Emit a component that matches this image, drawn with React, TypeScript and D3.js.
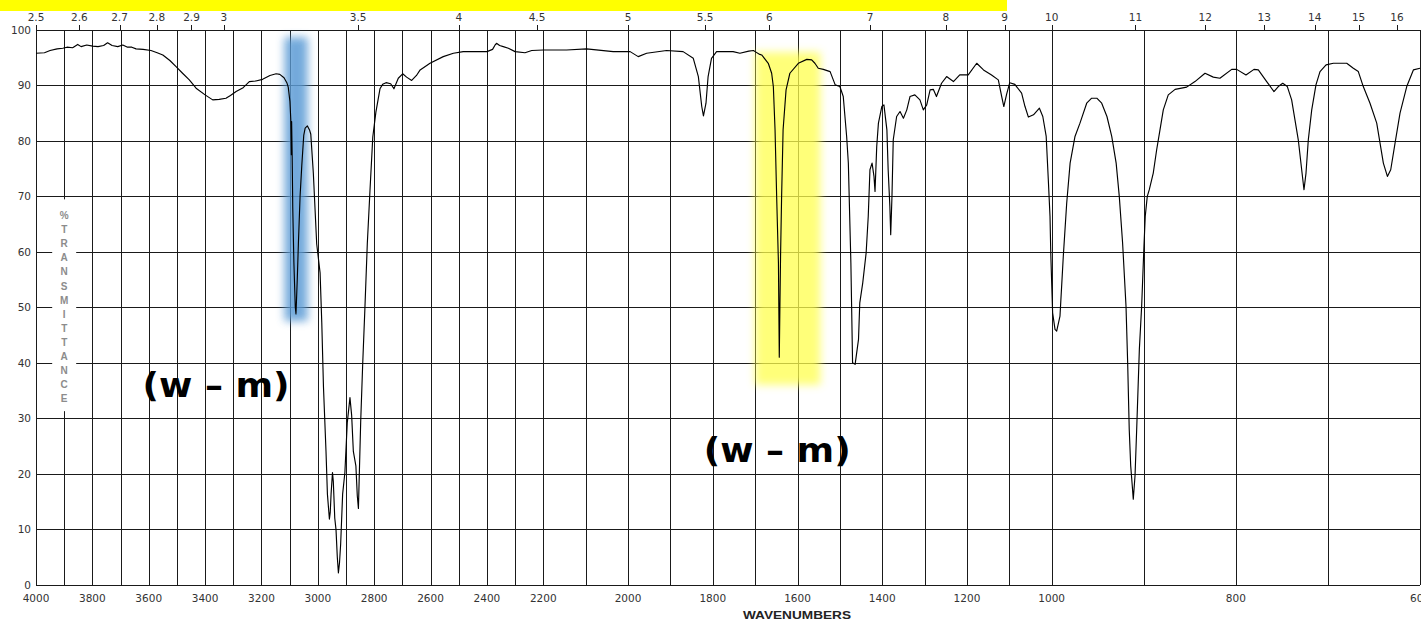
import React from "react";
import * as d3 from "d3";

// ---- Data ----
const wavenumbers = [
  4000, 3970, 3950, 3925, 3905, 3890, 3870, 3852, 3840, 3820, 3799, 3780, 3760, 3746, 3730, 3710, 3692, 3675, 3660, 3645,
  3620, 3592, 3570, 3550, 3525, 3503, 3480, 3456, 3432, 3400, 3373, 3350, 3326, 3310, 3290, 3265, 3243, 3220, 3196, 3170,
  3148, 3135, 3120, 3110, 3105, 3099, 3096, 3094, 3093, 3091, 3089, 3085, 3080, 3077.5, 3073, 3069, 3063, 3057, 3050, 3045,
  3037, 3029, 3025, 3016, 3004, 2992, 2986, 2980, 2971, 2966, 2959, 2956, 2953, 2948, 2945, 2940, 2935.5, 2931, 2927, 2923,
  2919, 2912, 2904, 2895.5, 2886, 2880, 2874, 2865, 2860, 2856, 2848, 2841, 2833, 2824.5, 2815, 2805, 2794, 2779.5, 2770, 2758,
  2741.5, 2730, 2714.5, 2699, 2685, 2667, 2650, 2637, 2602, 2555, 2519, 2484, 2400, 2380, 2371, 2366, 2355, 2342, 2324, 2300,
  2265, 2241, 2200, 2145, 2098, 2035, 1995, 1976, 1956, 1909, 1870, 1846, 1834, 1826, 1822, 1816, 1811, 1803, 1791, 1752,
  1736, 1715, 1704, 1700, 1689, 1684.5, 1669, 1661, 1657, 1653, 1649, 1645, 1643, 1640, 1637.5, 1634, 1627, 1618, 1598, 1578,
  1566.5, 1559, 1551, 1539, 1523, 1511, 1500, 1492, 1484, 1480, 1474, 1470, 1464, 1456, 1453, 1446, 1438, 1433, 1429, 1424,
  1419.5, 1417, 1413, 1409, 1401, 1396, 1389, 1386, 1382, 1380, 1377, 1374, 1366, 1358, 1350, 1342, 1334.5, 1323, 1311, 1303,
  1295, 1287, 1279.5, 1272, 1260, 1248, 1232, 1217, 1197, 1177, 1161, 1142, 1126, 1118, 1113, 1106.5, 1099, 1087, 1071, 1063,
  1055, 1043, 1029, 1021, 1013, 1008, 1004, 1002, 999, 996.4, 994.6, 991, 987.4, 983.7, 980, 974.7, 969.3, 962, 956.6, 951,
  945.7, 940, 934.8, 930, 926.6, 923, 919.3, 917.5, 915.8, 914.2, 912.5, 911.4, 909.5, 907.7, 904.8, 902.3, 899.8, 898.4, 896.2, 894,
  889.7, 886, 882.4, 878.8, 873.4, 866, 853.4, 844.4, 833.5, 824.5, 817.3, 804.5, 799.1, 789, 780.3, 775.6, 766.5, 758.6, 753.9, 749.1,
  744.1, 739.4, 735.8, 732.2, 728.5, 726, 723.8, 721.3, 717.6, 713, 708.6, 702, 694.1, 679.6, 672.4, 667, 661.6, 654.3, 647, 643.4,
  639.8, 635.4, 631.8, 627.1, 621.7, 614.4, 607.2, 600,
];
const transmittance = [
  95.8, 95.9, 96.3, 96.6, 96.7, 96.9, 96.8, 97.4, 97.0, 97.3, 97.1, 97.0, 97.2, 97.7, 97.2, 97.0, 97.3, 96.9, 96.9, 96.6,
  96.5, 96.3, 95.9, 95.5, 94.5, 93.4, 92.2, 91.0, 89.5, 88.3, 87.4, 87.5, 87.7, 88.2, 88.9, 89.6, 90.7, 90.8, 91.1, 91.8,
  92.1, 92.0, 91.4, 90.5, 89.7, 87.1, 83.9, 77.5, 83.5, 77, 68, 58.1, 50, 48.8, 55, 61.4, 70, 75.5, 81, 82.3,
  82.7, 81.9, 81.2, 74.2, 61.4, 56.2, 47.2, 35.6, 24.0, 16.3, 11.8, 13, 16.3, 20.2, 18.5, 12, 9.9, 5, 2.1, 4,
  7.3, 16.3, 20.2, 29.2, 33.7, 30.5, 24.0, 21.4, 16, 13.7, 29.2, 39.5, 49.8, 61.4, 71.0, 80.7, 85.2, 89.4, 90.2, 90.5,
  90.3, 89.4, 91.3, 92.1, 91.5, 90.9, 91.8, 92.8, 94.0, 95.2, 95.8, 96.1, 96.1, 96.5, 97.3, 97.6, 97.2, 97.0, 96.7, 96.1,
  95.9, 96.3, 96.4, 96.4, 96.6, 96.1, 96.1, 95.2, 95.8, 96.3, 96.1, 94.9, 91.6, 86.2, 84.5, 86.8, 91.6, 94.9, 96.1, 96.1,
  95.8, 96.2, 96.3, 96.1, 95.6, 95.5, 94.0, 92.2, 89.8, 82.0, 69.4, 58.0, 41.0, 59.2, 70, 82, 89.2, 92.2, 94.0, 94.7,
  94.6, 94.0, 93.1, 92.9, 92.5, 90.1, 89.8, 88.0, 80.8, 76, 58, 40, 39.7, 44.2, 50.8, 54.4, 59.8, 66.4, 74.8, 76,
  73.6, 70.9, 79, 83.2, 86.2, 86.5, 82, 74.8, 68.2, 63.1, 70, 80.2, 84.4, 85.3, 84.1, 85.6, 88, 88.3, 87.4, 85.6,
  86.5, 89.2, 89.3, 88, 90.4, 91.6, 90.7, 91.9, 91.9, 94.0, 92.8, 91.9, 91, 88, 86.2, 88.4, 90.5, 90.2, 88.6, 86.2,
  84.3, 84.7, 85.9, 84.4, 80.8, 73, 66.4, 59.2, 49, 46, 45.7, 48.4, 59.2, 68.8, 76, 80.8, 83.2, 86.8, 87.7, 87.7,
  86.8, 84.4, 80.8, 76, 70, 61.6, 50.2, 40, 28, 21.4, 17.8, 15.4, 19.6, 28, 42.4, 50.2, 61, 66.4, 70, 71.2,
  74.2, 78.4, 82, 85.6, 88.3, 89.3, 89.7, 90.7, 92.2, 91.5, 91.3, 92.9, 92.9, 91.9, 92.9, 92.8, 90.7, 88.9, 89.8, 90.4,
  89.8, 87.4, 83.8, 80.2, 74.8, 71.2, 74.2, 80.2, 85.6, 90.1, 92.5, 93.7, 94.0, 94.0, 93.1, 92.5, 89.8, 86.8, 83.2, 79.6,
  76, 73.6, 74.8, 79.6, 85, 89.8, 92.8, 93.1,
];

const bottomTickLabels = [4000, 3800, 3600, 3400, 3200, 3000, 2800, 2600, 2400, 2200, 2000, 1800, 1600, 1400, 1200, 1000, 800, 600];
const micronTickLabels = [2.5, 2.6, 2.7, 2.8, 2.9, 3, 3.5, 4, 4.5, 5, 5.5, 6, 7, 8, 9, 10, 11, 12, 13, 14, 15, 16];
const yTickLabels = [0, 10, 20, 30, 40, 50, 60, 70, 80, 90, 100];
const gridWavenumbers = d3.range(4000, 599, -100);
const yAxisTitle = "%TRANSMITTANCE";
const xAxisTitle = "WAVENUMBERS";

const highlightBands = [
  { wnFrom: 3118, wnTo: 3036, tTop: 98.7, tBottom: 47.5, color: "#5b9bd5", opacity: 0.85 },
  { wnFrom: 1700, wnTo: 1546, tTop: 96, tBottom: 36, color: "#ffff4d", opacity: 0.75 },
];
const annotationLabels = [
  { text: "(w – m)", wn: 3361, t: 33.8 },
  { text: "(w – m)", wn: 1648, t: 22.1 },
];

export default function App() {
  const W = 1421;
  const H = 621;
  const x = d3.scaleLinear().domain([4000, 2200, 1000, 600]).range([36, 543.3, 1051.7, 1420]);
  const y = d3.scaleLinear().domain([0, 100]).range([584.5, 30]);

  const pts = wavenumbers.map((w, i) => [w, transmittance[i]] as [number, number]);
  const line = d3
    .line<[number, number]>()
    .x((d) => x(d[0]))
    .y((d) => y(d[1]));

  const font = "'DejaVu Sans', Verdana, sans-serif";
  const gridColor = "#1a1a1a";
  const titleX = x(3900);
  const titleTop = 211;
  const titleStep = 14.1;

  return (
    <div style={{ position: "absolute", left: 0, top: 0, width: W, height: H, overflow: "hidden", background: "#fff" }}>
      <svg width={W} height={H} style={{ display: "block" }}>
        <defs>
          <filter id="soft" x="-50%" y="-20%" width="200%" height="140%">
            <feGaussianBlur stdDeviation="4" />
          </filter>
        </defs>
        <rect x={0} y={0} width={W} height={H} fill="#fff" />
        {/* top yellow bar */}
        <rect x={0} y={0} width={1007} height={11} fill="#ffff00" />

        {/* grid */}
        <g shapeRendering="crispEdges" stroke={gridColor} strokeWidth={1}>
          {gridWavenumbers.map((w) => (
            <line key={"v" + w} x1={Math.round(x(w)) + 0.5} x2={Math.round(x(w)) + 0.5} y1={y(100)} y2={y(0)} />
          ))}
          {yTickLabels.map((t) => (
            <line key={"h" + t} x1={x(4000)} x2={x(600)} y1={Math.round(y(t)) + 0.5} y2={Math.round(y(t)) + 0.5} />
          ))}
          {micronTickLabels.map((m) => (
            <line key={"mt" + m} x1={Math.round(x(10000 / m)) + 0.5} x2={Math.round(x(10000 / m)) + 0.5} y1={y(100) - 5} y2={y(100)} />
          ))}
        </g>

        {/* y-axis title box */}
        <rect x={titleX - 12} y={y(70) + 3} width={24} height={y(30) - y(70) - 10} fill="#fff" />
        {yAxisTitle.split("").map((ch, i) => (
          <text
            key={"yt" + i}
            x={titleX}
            y={titleTop + i * titleStep + 8}
            textAnchor="middle"
            fontFamily="'Liberation Sans', Arial, sans-serif"
            fontWeight="bold"
            fontSize={10}
            fill="#8c8c8c"
          >
            {ch}
          </text>
        ))}

        {/* highlight bands */}
        {highlightBands.map((b, i) => (
          <rect
            key={"hb" + i}
            x={x(b.wnFrom)}
            y={y(b.tTop)}
            width={x(b.wnTo) - x(b.wnFrom)}
            height={y(b.tBottom) - y(b.tTop)}
            fill={b.color}
            opacity={b.opacity}
            filter="url(#soft)"
          />
        ))}

        {/* spectrum */}
        <path d={line(pts) || ""} fill="none" stroke="#000" strokeWidth={1.15} strokeLinejoin="round" />

        {/* axis labels */}
        {yTickLabels.map((t) => (
          <text key={"yl" + t} x={31} y={y(t) + 4} textAnchor="end" fontFamily={font} fontSize={10.5} fill="#333">
            {t}
          </text>
        ))}
        {bottomTickLabels.map((w) => (
          <text key={"bl" + w} x={x(w)} y={602} textAnchor="middle" fontFamily={font} fontSize={10.5} fill="#333">
            {w}
          </text>
        ))}
        {micronTickLabels.map((m) => (
          <text key={"tl" + m} x={x(10000 / m)} y={21} textAnchor="middle" fontFamily={font} fontSize={10.5} fill="#333">
            {m}
          </text>
        ))}
        <text x={797} y={619} textAnchor="middle" fontFamily="'Liberation Sans', Arial, sans-serif" fontWeight="bold" fontSize={11.5} fill="#222" textLength={108} lengthAdjust="spacingAndGlyphs">
          {xAxisTitle}
        </text>

        {/* annotations */}
        {annotationLabels.map((a, i) => (
          <text
            key={"an" + i}
            x={x(a.wn)}
            y={y(a.t)}
            textAnchor="middle"
            fontFamily={font}
            fontWeight="bold"
            fontSize={33}
            fill="#000"
            textLength={147}
            lengthAdjust="spacingAndGlyphs"
          >
            {a.text}
          </text>
        ))}
      </svg>
    </div>
  );
}
